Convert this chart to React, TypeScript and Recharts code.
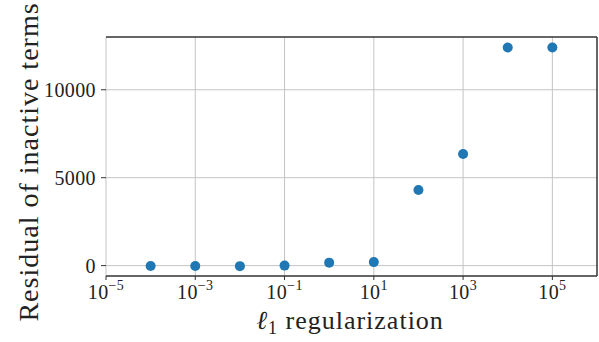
import React from 'react';
import {
  ScatterChart,
  Scatter,
  XAxis,
  YAxis,
  CartesianGrid,
  ReferenceLine,
} from 'recharts';

// regularization strengths and the residuals
const lambdas = [1e-4, 1e-3, 1e-2, 1e-1, 1, 10, 100, 1000, 1e4, 1e5];
const residuals = [-20, -20, -30, 0, 170, 200, 4300, 6350, 12400, 12400];

const xTicks = [1e-5, 1e-3, 1e-1, 1e1, 1e3, 1e5];
const yTicks = [0, 5000, 10000];

const data = lambdas.map((l, i) => ({ lambda: l, residual: residuals[i] }));

const FONT = '"Liberation Serif", serif';
const TEXT = '#222';

const XTick = (props: any) => {
  const { x, y, payload } = props;
  const exp = Math.round(Math.log10(payload.value));
  return (
    <text x={x} y={y + 17} textAnchor="middle" fontFamily={FONT} fontSize={20} fill={TEXT} letterSpacing={0.4}>
      10
      <tspan dy={-9} fontSize={14}>
        {exp < 0 ? '\u2212' + Math.abs(exp) : String(exp)}
      </tspan>
    </text>
  );
};

const YTick = (props: any) => {
  const { x, y, payload } = props;
  return (
    <text x={x - 3} y={y + 7} textAnchor="end" fontFamily={FONT} fontSize={20} fill={TEXT} letterSpacing={0.4}>
      {payload.value}
    </text>
  );
};

export default function App() {
  return (
    <div style={{ position: 'absolute', left: 0, top: 0, background: '#fff' }}>
      <ScatterChart width={599} height={342} margin={{ top: 37, right: 2, bottom: 0, left: 0 }}>
        <CartesianGrid stroke="#c4c4c4" strokeWidth={1} verticalValues={xTicks} horizontalValues={yTicks} />
        <XAxis
          dataKey="lambda"
          type="number"
          scale="log"
          domain={[1e-5, 1e6]}
          ticks={xTicks}
          allowDataOverflow
          height={66}
          tick={<XTick />}
          tickSize={4}
          axisLine={{ stroke: '#333', strokeWidth: 1.5 }}
          tickLine={{ stroke: '#333' }}
        />
        <YAxis
          dataKey="residual"
          type="number"
          domain={[-590, 13000]}
          ticks={yTicks}
          allowDataOverflow
          width={106}
          tick={<YTick />}
          tickSize={5}
          axisLine={false}
          tickLine={{ stroke: '#333' }}
        />
        <ReferenceLine y={13000} stroke="#333" strokeWidth={1.5} />
        <ReferenceLine x={1e6} stroke="#333" strokeWidth={1.5} />
        <Scatter data={data} fill="#1f77b4" isAnimationActive={false} shape={(p: any) => <circle cx={p.cx} cy={p.cy} r={5} fill="#1f77b4" />} />
        <text
          x={28}
          y={162}
          transform="rotate(-90 28 162)"
          textAnchor="middle"
          dominantBaseline="central"
          fontFamily={FONT}
          fontSize={28}
          letterSpacing={1}
          fill={TEXT}
        >
          Residual of inactive terms
        </text>
        <text x={350} y={329} textAnchor="middle" fontFamily={FONT} fontSize={26} letterSpacing={1} fill={TEXT}>
          <tspan fontStyle="italic">ℓ</tspan>
          <tspan dy={5} fontSize={18}>1</tspan>
          <tspan dy={-5}> regularization</tspan>
        </text>
      </ScatterChart>
    </div>
  );
}
